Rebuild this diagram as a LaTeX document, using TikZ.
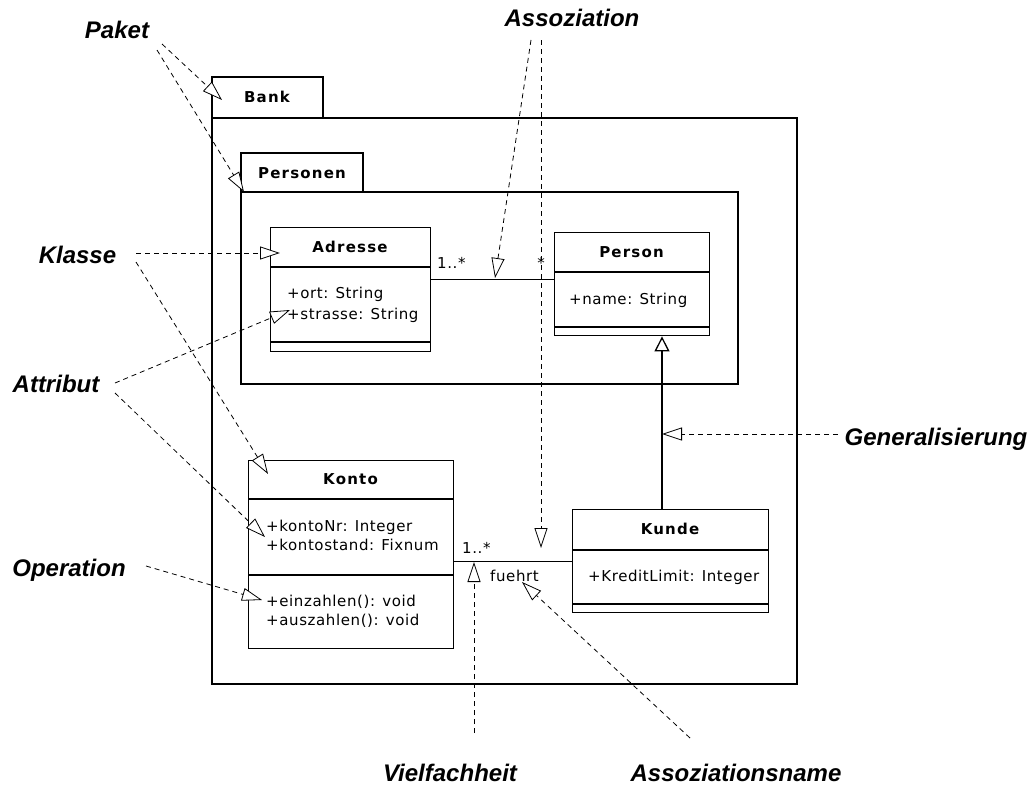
\documentclass[tikz,border=0pt]{standalone}
\usepackage{fontspec}
\newfontfamily\umlfont{DejaVu Sans}[LetterSpace=4]
\newfontfamily\umlbold{DejaVu Sans Bold}[LetterSpace=8]
\newfontfamily\notefont{Liberation Sans}
\usetikzlibrary{arrows.meta}

\tikzset{
  frame/.style={draw=black, line width=1.4pt},
  umltext/.style={font=\umlfont\fontsize{15}{17}\selectfont, inner sep=0pt, anchor=base west},
  umltitle/.style={font=\umlbold\fontsize{15}{18}\selectfont, inner sep=0pt, anchor=base},
  mult/.style={font=\umlfont\fontsize{15}{17}\selectfont, inner sep=0pt, anchor=base west},
  note/.style={font=\notefont\bfseries\itshape\fontsize{24}{28}\selectfont, inner sep=0pt, anchor=base},
  hint/.style={draw=black, line width=0.8pt, dash pattern=on 5pt off 4pt,
    -{Triangle[fill=white, length=20pt, width=13pt, line width=0.8pt]}},
  assoc/.style={draw=black, line width=1.3pt},
  gen/.style={draw=black, line width=1.3pt,
    -{Triangle[fill=white, length=15pt, width=15pt, line width=1.3pt]}},
}

\begin{document}
\begin{tikzpicture}[x=1pt, y=-1pt]
\fill[white] (0,0) rectangle (1032,787);
\useasboundingbox (0,0) rectangle (1032,787);

% package Bank
\draw[frame] (212,77) rectangle (323,118);
\draw[frame] (212,118) rectangle (797,684);
\node[umltitle] (bankname) at (267,102.5) {Bank};

% package Personen
\draw[frame] (241,153) rectangle (363,192);
\draw[frame] (241,192) rectangle (738,384);
\node[umltitle] (persname) at (302,178) {Personen};

% class Adresse
\node[frame, anchor=north west, minimum width=160pt, minimum height=124pt, inner sep=0pt] (adr) at (270,227) {};
\draw[frame] (270,267) -- (430,267);
\draw[frame] (270,342) -- (430,342);
\node[umltitle] (adrT) at (350,252.5) {Adresse};
\node[umltext] (adr1) at (287,298) {+ort: String};
\node[umltext] (adr2) at (287,319) {+strasse: String};

% class Person
\node[frame, anchor=north west, minimum width=155pt, minimum height=103pt, inner sep=0pt] (per) at (554,232) {};
\draw[frame] (554,272) -- (709,272);
\draw[frame] (554,327) -- (709,327);
\node[umltitle] (perT) at (631.5,257.5) {Person};
\node[umltext] (per1) at (569,304) {+name: String};

% class Konto
\node[frame, anchor=north west, minimum width=205pt, minimum height=188pt, inner sep=0pt] (kto) at (248,460) {};
\draw[frame] (248,499) -- (453,499);
\draw[frame] (248,575) -- (453,575);
\node[umltitle] (ktoT) at (350.5,484.5) {Konto};
\node[umltext] (kto1) at (266,531) {+kontoNr: Integer};
\node[umltext] (kto2) at (266,550) {+kontostand: Fixnum};
\node[umltext] (kto3) at (266,606) {+einzahlen(): void};
\node[umltext] (kto4) at (266,625) {+auszahlen(): void};

% class Kunde
\node[frame, anchor=north west, minimum width=196pt, minimum height=103pt, inner sep=0pt] (kun) at (572,509) {};
\draw[frame] (572,550) -- (768,550);
\draw[frame] (572,604) -- (768,604);
\node[umltitle] (kunT) at (670,534.5) {Kunde};
\node[umltext] (kun1) at (588,581) {+KreditLimit: Integer};

% associations
\draw[assoc] ([yshift=10pt]adr.east) -- ([yshift=4.5pt]per.west);
\node[mult] (m1) at (437,268) {1..*};
\node[mult, anchor=base] (m2) at (541,268) {*};
\draw[assoc] ([yshift=-7pt]kto.east) -- ([yshift=-0.5pt]kun.west);
\node[mult] (m3) at (462,553) {1..*};
\node[mult] (aname) at (490,581) {fuehrt};

% generalization
\coordinate (genx) at (662,0);
\draw[gen] (kun.north -| genx) -- (per.south -| genx);

% explanatory labels
\node[note] (lPaket) at (117,38) {Paket};
\node[note] (lAssoz) at (572,26) {Assoziation};
\node[note] (lKlasse) at (77.5,263) {Klasse};
\node[note] (lAttr) at (56,392) {Attribut};
\node[note] (lGen) at (936,445) {Generalisierung};
\node[note] (lOp) at (69,576) {Operation};
\node[note] (lViel) at (450,781) {Vielfachheit};
\node[note] (lAname) at (736,781) {Assoziationsname};

% free ends of the hint lines
\coordinate (pk1) at (162,44);   \coordinate (pkBank) at (222,100);
\coordinate (pk2) at (157,50);   \coordinate (pkPers) at (244,192);
\coordinate (as1) at (531,40);   \coordinate (asA) at (495,278);
\coordinate (as2) at (541,40);   \coordinate (asK) at (541,548);
\coordinate (kl1) at (136,253);  \coordinate (klA) at (280,253);
\coordinate (kl2) at (136,262);  \coordinate (klK) at (268,474);
\coordinate (at1) at (115,383);  \coordinate (atA) at (290,310);
\coordinate (at2) at (115,393);  \coordinate (atK) at (265,537);
\coordinate (ge1) at (838,434);  \coordinate (geT) at (662,434);
\coordinate (op1) at (146,566);  \coordinate (opK) at (262,600);
\coordinate (vf1) at (474,733);  \coordinate (vfT) at (474,562);
\coordinate (an1) at (690,738);  \coordinate (anT) at (522,582);

\draw[hint] (pk1) -- (pkBank);
\draw[hint] (pk2) -- (pkPers);
\draw[hint] (as1) -- (asA);
\draw[hint] (as2) -- (asK);
\draw[hint] (kl1) -- (klA);
\draw[hint] (kl2) -- (klK);
\draw[hint] (at1) -- (atA);
\draw[hint] (at2) -- (atK);
\draw[hint] (ge1) -- (geT);
\draw[hint] (op1) -- (opK);
\draw[hint] (vf1) -- (vfT);
\draw[hint] (an1) -- (anT);
\end{tikzpicture}
\end{document}
